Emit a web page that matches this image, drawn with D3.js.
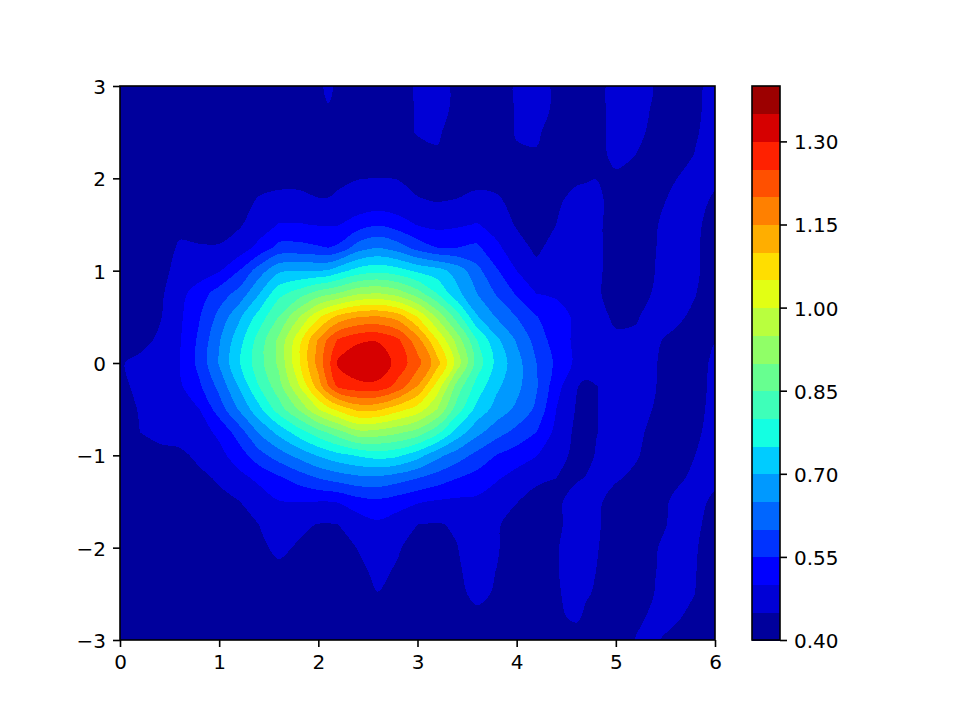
<!DOCTYPE html>
<html>
<head>
<meta charset="utf-8">
<script src="https://cdnjs.cloudflare.com/ajax/libs/d3/7.8.5/d3.min.js"></script>
<style>
html,body{margin:0;padding:0;background:#fff;}
svg{display:block;}
text{font-family:"DejaVu Sans",sans-serif;font-size:20px;fill:#000;}
</style>
</head>
<body>
<svg id="chart" width="960" height="720"></svg>
<script>
// contour levels and fill colours
const levels = [0.40,0.45,0.50,0.55,0.60,0.65,0.70,0.75,0.80,0.85,0.90,0.95,1.00,1.05,1.10,1.15,1.20,1.25,1.30,1.35,1.40];
const bandColors = ["#00009c","#0000d6","#0000ff","#0033ff","#0066ff","#0099ff","#00ccff","#14ffe2","#3effb9","#67ff90","#90ff67","#b9ff3e","#e2ff14","#ffde00","#ffae00","#ff8000","#ff5000","#ff2100","#d60000","#9c0000"];
const xTicks = [0,1,2,3,4,5,6];
const yTicks = [-3,-2,-1,0,1,2,3];
const barTicks = [0.40,0.55,0.70,0.85,1.00,1.15,1.30];

// sample positions of the value table
const gridX = [0,.2,.4,.6,.8,1,1.2,1.4,1.6,1.8,2,2.1,2.2,2.4,2.6,2.8,3,3.2,3.4,3.6,3.8,4,4.2,4.4,4.6,4.7,4.8,5,5.2,5.4,5.6,5.8,6];
const gridY = [3,2.75,2.5,2.25,2,1.75,1.5,1.25,1,.75,.5,.25,0,-.25,-.5,-.75,-1,-1.25,-1.5,-1.75,-2,-2.25,-2.5,-2.75,-3];

// values, one list per y position
const zP300 = [.41,.41,.41,.41,.41,.41,.41,.41,.42,.43,.44,.46,.44,.43,.43,.44,.453,.465,.44,.42,.43,.455,.47,.44,.42,.42,.43,.47,.48,.445,.42,.435,.47];
const zP275 = [.41,.41,.41,.41,.41,.41,.41,.41,.42,.43,.44,.447,.44,.43,.43,.44,.452,.465,.44,.42,.43,.453,.47,.44,.42,.42,.43,.47,.475,.44,.42,.44,.47];
const zP250 = [.41,.41,.41,.41,.41,.41,.41,.41,.42,.425,.43,.43,.43,.43,.43,.44,.452,.456,.43,.42,.43,.453,.455,.435,.42,.42,.43,.47,.465,.435,.42,.445,.47];
const zP225 = [.41,.41,.41,.41,.41,.41,.41,.41,.42,.42,.43,.43,.43,.435,.44,.44,.44,.445,.43,.42,.43,.445,.447,.435,.42,.425,.43,.465,.45,.43,.43,.452,.47];
const zP200 = [.41,.41,.41,.41,.415,.42,.43,.44,.44,.44,.44,.44,.445,.449,.45,.449,.44,.43,.43,.44,.44,.43,.42,.43,.44,.445,.449,.44,.44,.43,.448,.47,.455];
const zP175 = [.40,.41,.415,.425,.425,.43,.44,.453,.46,.46,.452,.452,.455,.465,.47,.465,.453,.449,.453,.46,.455,.44,.43,.44,.47,.47,.47,.42,.42,.435,.465,.46,.445];
const zP150 = [.40,.405,.42,.44,.44,.44,.445,.47,.502,.503,.497,.496,.497,.525,.545,.525,.497,.485,.492,.503,.48,.445,.43,.45,.47,.47,.47,.41,.41,.447,.47,.46,.43];
const zP125 = [.40,.41,.43,.455,.452,.452,.47,.515,.565,.565,.555,.55,.56,.625,.65,.625,.58,.55,.55,.56,.51,.47,.44,.47,.47,.47,.47,.41,.41,.449,.47,.46,.42];
const zP100 = [.40,.41,.445,.455,.475,.495,.55,.625,.69,.70,.70,.705,.73,.77,.785,.77,.74,.72,.68,.615,.555,.50,.465,.465,.47,.47,.47,.41,.41,.451,.465,.46,.42];
const zP075 = [.40,.41,.44,.485,.525,.575,.617,.697,.785,.825,.875,.89,.905,.945,.955,.93,.875,.80,.715,.65,.595,.545,.50,.492,.475,.47,.465,.41,.415,.46,.465,.452,.42];
const zP050 = [.40,.425,.445,.49,.547,.615,.69,.77,.85,.945,1.04,1.08,1.115,1.148,1.155,1.13,1.05,.94,.825,.705,.645,.60,.552,.525,.49,.48,.47,.44,.445,.47,.46,.44,.425];
const zP025 = [.41,.43,.46,.495,.56,.645,.73,.82,.91,1.03,1.155,1.21,1.255,1.29,1.295,1.26,1.17,1.05,.93,.80,.71,.645,.58,.525,.49,.48,.47,.46,.46,.455,.44,.43,.448];
const z000 = [.445,.465,.485,.50,.565,.655,.745,.83,.91,1.04,1.17,1.235,1.31,1.345,1.345,1.28,1.22,1.12,.98,.83,.735,.67,.60,.54,.49,.475,.47,.46,.455,.452,.43,.43,.46];
const zN025 = [.44,.46,.475,.492,.542,.615,.705,.80,.88,.995,1.125,1.2,1.262,1.285,1.285,1.235,1.15,1.03,.88,.78,.71,.665,.605,.52,.453,.44,.449,.46,.455,.451,.43,.435,.46];
const zN050 = [.42,.455,.47,.485,.50,.575,.655,.735,.825,.905,1.0,1.035,1.065,1.115,1.11,1.07,1.03,.95,.825,.735,.68,.64,.59,.50,.447,.44,.449,.46,.46,.448,.435,.44,.46];
const zN075 = [.41,.45,.46,.47,.48,.51,.575,.655,.715,.775,.83,.855,.88,.935,.93,.91,.88,.815,.73,.665,.62,.585,.55,.485,.44,.44,.449,.46,.458,.44,.44,.445,.46];
const zN100 = [.40,.42,.44,.44,.46,.485,.525,.58,.625,.665,.705,.72,.735,.755,.77,.76,.72,.665,.625,.585,.548,.525,.502,.465,.44,.44,.452,.46,.455,.43,.43,.45,.455];
const zN125 = [.40,.41,.42,.43,.44,.455,.485,.51,.54,.57,.60,.61,.62,.635,.637,.62,.60,.575,.55,.53,.505,.48,.46,.45,.445,.452,.46,.455,.44,.43,.44,.46,.46];
const zN150 = [.40,.40,.41,.42,.43,.44,.449,.475,.498,.50,.50,.50,.503,.53,.54,.525,.505,.495,.49,.49,.47,.452,.43,.44,.47,.47,.46,.43,.42,.43,.46,.465,.44];
const zN175 = [.40,.40,.40,.41,.42,.43,.44,.45,.47,.46,.448,.447,.45,.47,.49,.47,.45,.447,.455,.465,.455,.43,.42,.44,.47,.47,.46,.42,.41,.43,.465,.46,.43];
const zN200 = [.40,.40,.40,.40,.41,.42,.43,.44,.46,.445,.42,.42,.43,.452,.475,.455,.43,.42,.449,.47,.455,.42,.41,.447,.47,.465,.455,.42,.41,.447,.47,.455,.42];
const zN225 = [.40,.40,.40,.40,.40,.40,.41,.42,.44,.42,.41,.41,.41,.44,.46,.445,.42,.41,.445,.465,.449,.41,.41,.447,.47,.46,.45,.41,.41,.449,.47,.453,.41];
const zN250 = [.40,.40,.40,.40,.40,.40,.40,.41,.42,.41,.40,.40,.40,.42,.449,.43,.41,.41,.44,.46,.445,.41,.41,.445,.465,.455,.445,.41,.42,.452,.47,.45,.41];
const zN275 = [.40,.40,.40,.40,.40,.40,.40,.40,.40,.40,.40,.40,.40,.40,.41,.41,.41,.41,.42,.44,.42,.41,.41,.44,.46,.44,.42,.41,.44,.46,.46,.43,.41];
const zN300 = [.40,.40,.40,.40,.40,.40,.40,.40,.40,.40,.40,.40,.40,.40,.40,.40,.40,.40,.40,.40,.40,.40,.40,.41,.42,.41,.41,.41,.452,.455,.43,.41,.41];

const zRows = [zP300,zP275,zP250,zP225,zP200,zP175,zP150,zP125,zP100,zP075,zP050,zP025,z000,zN025,zN050,zN075,zN100,zN125,zN150,zN175,zN200,zN225,zN250,zN275,zN300];

const svg = d3.select("#chart");
const plot = {left:120,right:715,top:86,bottom:640};
const bar = {left:752,right:780,top:86,bottom:640};
const lw = 1.6, tickLen = 7, tickPad = 7;

const x = d3.scaleLinear().domain([0,6]).range([plot.left,plot.right]);
const y = d3.scaleLinear().domain([-3,3]).range([plot.bottom,plot.top]);
const c = d3.scaleLinear().domain([0.40,1.40]).range([bar.bottom,bar.top]);

// d3.contours places sample i at coordinate i + 0.5; outer edges fall outside the clip
const nx = gridX.length, ny = gridY.length;
const colToX = d3.scaleLinear().domain(gridX.map((_,i)=>i+0.5)).range(gridX);
const rowToY = d3.scaleLinear().domain(gridY.map((_,i)=>i+0.5)).range(gridY);
const ringLine = d3.line()
  .x(p=>x(colToX(p[0]))).y(p=>y(rowToY(p[1])))
  .curve(d3.curveCatmullRomClosed.alpha(0.5));
const geomPath = g => g.coordinates.flatMap(poly=>poly.map(ring=>ringLine(ring.slice(0,-1)))).join("");

svg.append("defs").append("clipPath").attr("id","plot-clip").append("rect")
  .attr("x",plot.left).attr("y",plot.top)
  .attr("width",plot.right-plot.left).attr("height",plot.bottom-plot.top);

const flat = zRows.flat();
const contourGen = d3.contours().size([nx,ny]).smooth(true);

const bandLevels = levels.slice(0,-1);
const cg = svg.append("g").attr("clip-path","url(#plot-clip)");
cg.append("rect").attr("x",plot.left).attr("y",plot.top)
  .attr("width",plot.right-plot.left).attr("height",plot.bottom-plot.top)
  .attr("fill",bandColors[0]);
cg.selectAll("path")
  .data(bandLevels.map((t,i)=>({geom:contourGen.contour(flat,t-1e-9),color:bandColors[i]})).slice(1))
  .join("path")
  .attr("d",d=>geomPath(d.geom))
  .attr("fill",d=>d.color)
  .attr("shape-rendering","crispEdges");

function styleAxis(g, dy){
  g.selectAll(".tick line").attr("stroke","#000").attr("stroke-width",lw);
  g.selectAll(".domain").remove();
  g.selectAll("text").attr("fill","#000").attr("dy",dy);
  g.attr("font-family",null).attr("font-size",null);
}

svg.append("g").attr("transform",`translate(0,${plot.bottom})`)
  .call(d3.axisBottom(x).tickValues(xTicks).tickSize(tickLen).tickPadding(tickPad).tickFormat(d3.format("d")))
  .call(styleAxis,"15.4px");
svg.append("g").attr("transform",`translate(${plot.left},0)`)
  .call(d3.axisLeft(y).tickValues(yTicks).tickSize(tickLen).tickPadding(tickPad).tickFormat(d3.format("d")))
  .call(styleAxis,"7.4px");

svg.append("rect").attr("x",plot.left).attr("y",plot.top)
  .attr("width",plot.right-plot.left).attr("height",plot.bottom-plot.top)
  .attr("fill","none").attr("stroke","#000").attr("stroke-width",lw);

// colour bar
svg.append("g").selectAll("rect")
  .data(bandLevels.map((t,i)=>({lo:t,hi:levels[i+1],color:bandColors[i]})))
  .join("rect")
  .attr("x",bar.left).attr("width",bar.right-bar.left)
  .attr("y",d=>c(d.hi)).attr("height",d=>c(d.lo)-c(d.hi)+0.5)
  .attr("fill",d=>d.color)
  .attr("shape-rendering","crispEdges");
svg.append("g").attr("transform",`translate(${bar.right},0)`)
  .call(d3.axisRight(c).tickValues(barTicks).tickSize(tickLen).tickPadding(tickPad).tickFormat(d3.format(".2f")))
  .call(styleAxis,"7.4px");
svg.append("rect").attr("x",bar.left).attr("y",bar.top)
  .attr("width",bar.right-bar.left).attr("height",bar.bottom-bar.top)
  .attr("fill","none").attr("stroke","#000").attr("stroke-width",lw);
</script>
</body>
</html>
